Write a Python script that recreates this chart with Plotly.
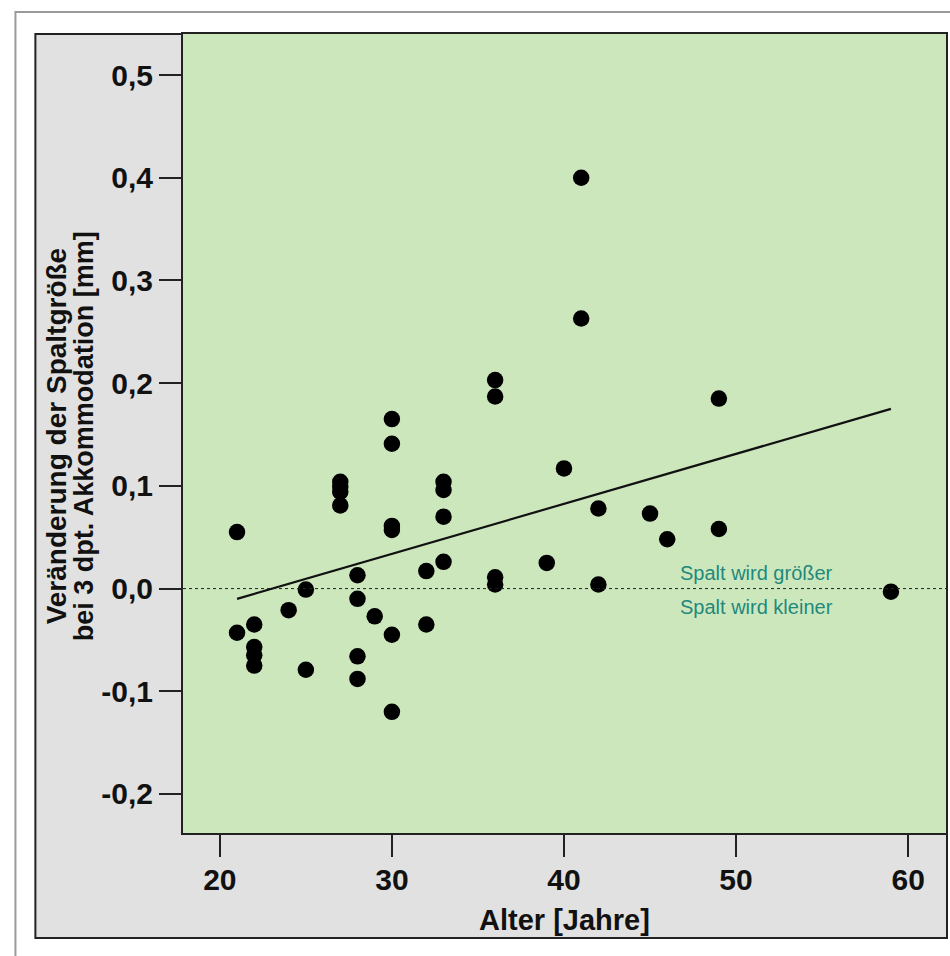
import plotly.graph_objects as go

# ---- data ----
alter = [21, 21, 22, 22, 22, 22, 24, 25, 25, 27, 27, 27, 27, 28, 28, 28, 28, 29,
         30, 30, 30, 30, 30, 30, 32, 32, 33, 33, 33, 33, 36, 36, 36, 36, 39, 40,
         41, 41, 42, 42, 45, 46, 49, 49, 59]
veraenderung = [0.055, -0.043, -0.035, -0.057, -0.065, -0.075, -0.021, -0.001, -0.079,
                0.104, 0.099, 0.094, 0.081, 0.013, -0.010, -0.066, -0.088, -0.027,
                0.165, 0.141, 0.061, 0.057, -0.045, -0.120, 0.017, -0.035,
                0.104, 0.096, 0.070, 0.026, 0.203, 0.187, 0.011, 0.004, 0.025, 0.117,
                0.400, 0.263, 0.078, 0.004, 0.073, 0.048, 0.185, 0.058, -0.003]
fit_x = [21, 59]
fit_y = [-0.010, 0.175]

y_tickvals = [-0.2, -0.1, 0.0, 0.1, 0.2, 0.3, 0.4, 0.5]
y_ticktext = ["-0,2", "-0,1", "0,0", "0,1", "0,2", "0,3", "0,4", "0,5"]
x_tickvals = [20, 30, 40, 50, 60]
x_ticktext = ["20", "30", "40", "50", "60"]

label_up = "Spalt wird größer"
label_down = "Spalt wird kleiner"
y_title_1 = "Veränderung der Spaltgröße"
y_title_2 = "bei 3 dpt. Akkommodation [mm]"
x_title = "Alter [Jahre]"

FONT = "Liberation Sans, Arial, sans-serif"

fig = go.Figure()

fig.add_trace(go.Scatter(
    x=fit_x, y=fit_y, mode="lines",
    line=dict(color="#111111", width=2.2), hoverinfo="skip", showlegend=False))

fig.add_trace(go.Scatter(
    x=alter, y=veraenderung, mode="markers",
    marker=dict(color="#000000", size=16.5, line=dict(width=0)),
    showlegend=False))

W, H = 950, 956
L, R, T, B = 183, 2, 34, 123
pw, ph = W - L - R, H - T - B

def px(xp):
    return (xp - L) / pw

def py(yp):
    return (H - B - yp) / ph

shapes = [
    # outer light-gray frame
    dict(type="rect", xref="paper", yref="paper",
         x0=px(15), x1=px(975), y0=py(985), y1=py(12),
         line=dict(color="#9a9a9a", width=2), fillcolor="rgba(0,0,0,0)", layer="below"),
    # gray panel
    dict(type="rect", xref="paper", yref="paper",
         x0=px(35), x1=px(949), y0=py(938), y1=py(34),
         line=dict(color="#222222", width=2), fillcolor="#e1e1e1", layer="below"),
    # green plot area
    dict(type="rect", xref="x domain", yref="y domain",
         x0=0, x1=1, y0=0, y1=1,
         line=dict(width=0), fillcolor="#cde7bd", layer="below"),
    # dotted zero line
    dict(type="line", xref="x domain", yref="y",
         x0=0, x1=1, y0=0, y1=0,
         line=dict(color="#222222", width=1, dash="dot"), layer="above"),
]

annotations = [
    dict(x=46.6, y=0.0156, xref="x", yref="y", text=label_up, showarrow=False,
         xanchor="left", yanchor="middle",
         font=dict(family=FONT, size=20, color="#22897c")),
    dict(x=46.6, y=-0.0175, xref="x", yref="y", text=label_down, showarrow=False,
         xanchor="left", yanchor="middle",
         font=dict(family=FONT, size=20, color="#22897c")),
    dict(x=px(56), y=py(436), xref="paper", yref="paper", text=y_title_1,
         showarrow=False, textangle=-90, xanchor="center", yanchor="middle",
         font=dict(family=FONT, size=28, color="#111111", weight="bold")),
    dict(x=px(84), y=py(436), xref="paper", yref="paper", text=y_title_2,
         showarrow=False, textangle=-90, xanchor="center", yanchor="middle",
         font=dict(family=FONT, size=27, color="#111111", weight="bold")),
    dict(x=px(565), y=py(920), xref="paper", yref="paper", text=x_title,
         showarrow=False, xanchor="center", yanchor="middle",
         font=dict(family=FONT, size=29, color="#111111", weight="bold")),
]

fig.update_layout(
    width=W, height=H,
    margin=dict(l=L, r=R, t=T, b=B, pad=0),
    paper_bgcolor="#ffffff",
    plot_bgcolor="#cde7bd",
    shapes=shapes,
    annotations=annotations,
    showlegend=False,
    xaxis=dict(
        range=[17.86, 62.2], tickvals=x_tickvals, ticktext=x_ticktext,
        showgrid=False, zeroline=False,
        showline=True, mirror=True, linecolor="#222222", linewidth=2,
        ticks="outside", ticklen=22, tickwidth=2, tickcolor="#222222",
        ticklabelstandoff=-3,
        tickfont=dict(family=FONT, size=30, color="#111111", weight="bold"),
    ),
    yaxis=dict(
        range=[-0.238, 0.540], tickvals=y_tickvals, ticktext=y_ticktext,
        showgrid=False, zeroline=False,
        showline=True, mirror=True, linecolor="#222222", linewidth=2,
        ticks="outside", ticklen=22, tickwidth=2, tickcolor="#222222",
        tickfont=dict(family=FONT, size=30, color="#111111", weight="bold"),
    ),
)

fig.write_html("out.html")
